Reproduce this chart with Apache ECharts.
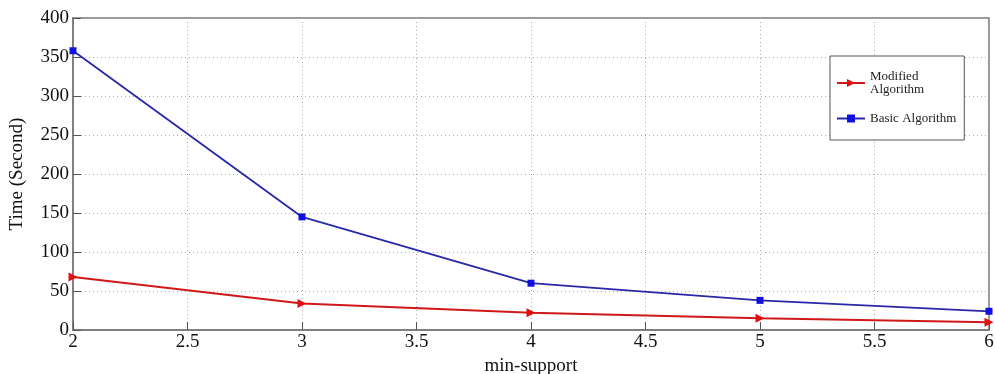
<!DOCTYPE html>
<html>
<head>
<meta charset="utf-8">
<script src="https://cdn.jsdelivr.net/npm/echarts@6/dist/echarts.min.js"></script>
<style>
  html, body { margin: 0; padding: 0; background: #fff; }
  #chart { width: 995px; height: 374px; }
</style>
</head>
<body>
<div id="chart"></div>
<script>
  // min-support values
  var minSupport = [2, 3, 4, 5, 6]
  // running time (second)
  var modifiedTime = [68, 34, 22, 15, 10]
  var basicTime = [358, 145, 60, 38, 24]

  var font = 'Liberation Serif, Times New Roman, serif'

  function pairs(xs, ys) {
    return xs.map(function(x, i) { return [x, ys[i]] })
  }

  var chart = echarts.init(document.getElementById('chart'))
  chart.setOption({
    animation: false,
    grid: {
      left: 73,
      right: 6,
      top: 18,
      bottom: 44,
      outerBoundsMode: 'none',
      containLabel: false,
      show: true,
      borderColor: '#777',
      borderWidth: 1.5,
      backgroundColor: '#fff'
    },
    legend: {
      orient: 'vertical',
      left: 830,
      top: 56,
      padding: [14, 8, 15, 6],
      itemGap: 16,
      itemWidth: 28,
      itemHeight: 10,
      borderColor: '#555',
      borderWidth: 1,
      backgroundColor: '#fff',
      textStyle: { fontFamily: font, fontSize: 13, color: '#222', lineHeight: 13 },
      data: ['Modified\nAlgorithm', 'Basic Algorithm']
    },
    xAxis: {
      type: 'value',
      min: 2,
      max: 6,
      interval: 0.5,
      name: 'min-support',
      nameLocation: 'middle',
      nameGap: 23,
      nameTextStyle: { fontFamily: font, fontSize: 19, color: '#111' },
      axisLine: { show: true, lineStyle: { color: '#777', width: 1.5 } },
      axisTick: { show: true, inside: true, length: 8, lineStyle: { color: '#555' } },
      axisLabel: { fontFamily: font, fontSize: 19, color: '#111', margin: 3 },
      splitLine: { show: true, lineStyle: { color: '#aaa', type: [1, 3], width: 1 } }
    },
    yAxis: {
      type: 'value',
      min: 0,
      max: 400,
      interval: 50,
      name: 'Time (Second)',
      nameLocation: 'middle',
      nameGap: 46,
      nameTextStyle: { fontFamily: font, fontSize: 19, color: '#111' },
      axisLine: { show: true, lineStyle: { color: '#777', width: 1.5 } },
      axisTick: { show: true, inside: true, length: 8, lineStyle: { color: '#555' } },
      axisLabel: { fontFamily: font, fontSize: 19, color: '#111', margin: 4 },
      splitLine: { show: true, lineStyle: { color: '#aaa', type: [1, 3], width: 1 } }
    },
    series: [
      {
        name: 'Modified\nAlgorithm',
        type: 'line',
        data: pairs(minSupport, modifiedTime),
        symbol: 'triangle',
        symbolRotate: -90,
        symbolSize: 9,
        itemStyle: { color: '#e01010' },
        lineStyle: { color: '#d01818', width: 2 }
      },
      {
        name: 'Basic Algorithm',
        type: 'line',
        data: pairs(minSupport, basicTime),
        symbol: 'rect',
        symbolSize: 7,
        itemStyle: { color: '#1010e0' },
        lineStyle: { color: '#2828a8', width: 1.8 }
      }
    ]
  })
</script>
</body>
</html>
